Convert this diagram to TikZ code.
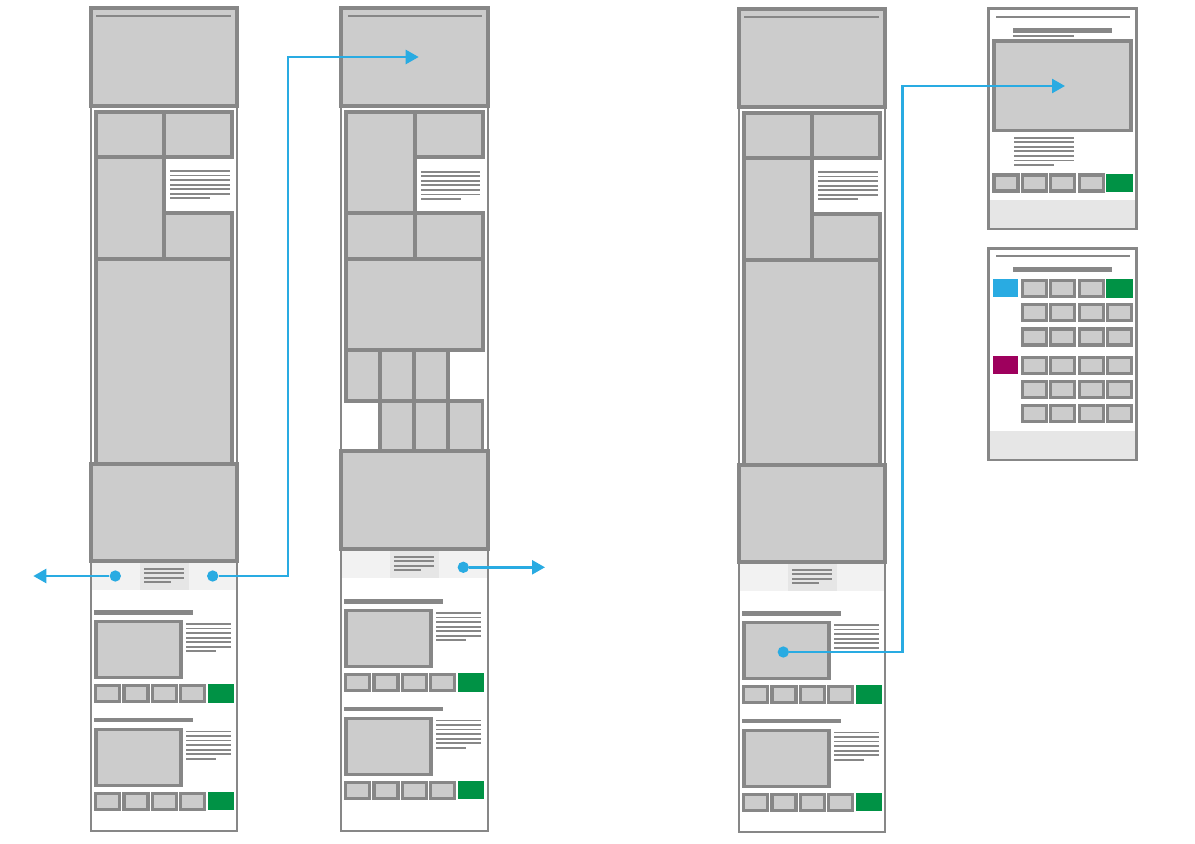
\documentclass[tikz,border=0pt]{standalone}
\usetikzlibrary{arrows.meta}
\definecolor{wfline}{HTML}{878787}
\definecolor{wfbox}{HTML}{CCCCCC}
\definecolor{wfstrip}{HTML}{F2F2F2}
\definecolor{wfmid}{HTML}{E6E6E6}
\definecolor{wfgreen}{HTML}{009245}
\definecolor{wfblue}{HTML}{29ABE2}
\definecolor{wfplum}{HTML}{9E005D}
\tikzset{
	pageframe/.style={draw=wfline, line width=1.7pt},
	blk/.style={draw=wfline, fill=wfbox, line width=2.5pt},
	btn/.style={draw=wfline, fill=wfbox, line width=2.3pt},
	txt/.style={draw=wfline, line width=1.3pt},
	rule/.style={draw=wfline, line width=1.7pt},
	bar/.style={draw=wfline, line width=3.3pt},
	link/.style={draw=wfblue, line width=1.9pt, -{Triangle[length=9.75pt,width=10.5pt]}},
	bluedot/.style={circle, fill=wfblue, inner sep=0pt, minimum size=8.5pt},
}
\newcommand{\wflines}[4]{%
	\foreach \k in {0,...,5}
		\draw[txt] (#1,{#4+4.55*\k}) -- (#2,{#4+4.55*\k});
	\draw[txt] (#1,{#4+27.3}) -- (#3,{#4+27.3});
}
\newcommand{\wfbuttons}[2]{%
	\foreach \i in {0,...,3}
		\draw[btn] ({#1+28.4*\i},#2) rectangle ++(24,16);
	\fill[wfgreen] ({#1+113.6-1.3},{#2-1.3}) rectangle ++(26.3,18.6);
}
\newcommand{\wflisting}[1]{%
	\draw[bar] (94,#1) -- (193,#1);
	\draw[blk] (96,{#1+9.3}) rectangle (181,{#1+65.3});
	\wflines{186}{231}{216}{#1+11.5}
	\wfbuttons{95.6}{#1+73.1}
}
\newcommand{\wfstripbar}{%
	\fill[wfstrip] (91,561) rectangle (237,590);
	\fill[wfmid] (140,561) rectangle (189,590);
	\foreach \y in {569,573.3,577.7}
		\draw[txt] (144,\y) -- (184,\y);
	\draw[txt] (144,581.7) -- (171,581.7);
}
\newcommand{\wfpageA}{%
	\wfstripbar
	\draw[pageframe] (91,8) rectangle (237,831);
	\draw[blk] (91,8) rectangle (237,106);
	\draw[rule] (96,16) -- (231,16);
	\draw[blk] (96,112) rectangle (164,157);
	\draw[blk] (164,112) rectangle (232,157);
	\draw[blk] (96,157) rectangle (164,259);
	\draw[blk] (164,213) rectangle (232,259);
	\draw[blk] (96,259) rectangle (232,464);
	\wflines{170}{230}{210}{171}
	\draw[blk] (91,464) rectangle (237,561);
	\wflisting{612.5}
	\wflisting{720}
}
\begin{document}
\begin{tikzpicture}[x=0.75pt,y=-0.75pt]
	\useasboundingbox (0,0) rectangle (1195,843);
	\wfpageA
	\begin{scope}[shift={(648,1)}]
		\wfpageA
	\end{scope}
	\begin{scope}[shift={(250,-12)}]
		\wfstripbar
	\end{scope}
	\draw[pageframe] (341,8) rectangle (488,831);
	\draw[blk] (341,8) rectangle (488,106);
	\draw[rule] (348,16) -- (482,16);
	\draw[blk] (346,112) rectangle (415,213);
	\draw[blk] (415,112) rectangle (483,157);
	\wflines{421}{480}{461}{171.7}
	\draw[blk] (346,213) rectangle (415,259);
	\draw[blk] (415,213) rectangle (483,259);
	\draw[blk] (346,259) rectangle (483,350);
	\foreach \x in {346,380,414}
		\draw[blk] (\x,350) rectangle ++(34,51);
	\foreach \x in {380,414,448}
		\draw[blk] (\x,401) rectangle ++(34.5,50);
	\draw[blk] (341,451) rectangle (488,549);
	\begin{scope}[shift={(250,-11)}]
		\wflisting{612.5}
		\wflisting{720}
	\end{scope}
	\fill[wfmid] (988.5,200) rectangle (1136.5,229);
	\draw[pageframe] (988.5,8.5) rectangle (1136.5,229);
	\draw[rule] (996,16.7) -- (1130,16.7);
	\draw[bar] (1013,30.3) -- (1112,30.3);
	\draw[txt] (1013,35.7) -- (1074,35.7);
	\draw[blk] (994,41) rectangle (1131,130.5);
	\wflines{1014}{1074}{1054}{137.7}
	\wfbuttons{994}{175}
	\fill[wfmid] (988.5,430.7) rectangle (1136.5,460);
	\draw[pageframe] (988.5,248.5) rectangle (1136.5,460);
	\draw[rule] (996,255.7) -- (1130,255.7);
	\draw[bar] (1013,269.3) -- (1112,269.3);
	\fill[wfblue] (992.7,279.3) rectangle (1018.3,297.3);
	\fill[wfplum] (992.7,356) rectangle (1018.3,374);
	\foreach \i in {0,...,2}
		\draw[btn] ({1022.4+28.4*\i},280.6) rectangle ++(24,16);
	\fill[wfgreen] (1106.3,279.3) rectangle ++(26.3,18.6);
	\foreach \y in {304.6,329,357.3,381.3,405.6}
		\foreach \i in {0,...,3}
			\draw[btn] ({1022.4+28.4*\i},\y) rectangle ++(24,16);
	\node[bluedot] (dotAL) at (115.3,576) {};
	\node[bluedot] (dotAR) at (212.7,576) {};
	\node[bluedot] (dotB) at (463.3,567.3) {};
	\node[bluedot] (dotC) at (783.3,652) {};
	\coordinate (tipL) at (33.3,576);
	\coordinate (bendA) at (288,300);
	\coordinate (tipB) at (418.7,57);
	\coordinate (tipR) at (545,567.3);
	\coordinate (bendC) at (902.3,400);
	\coordinate (tipD) at (1065,86);
	\draw[link] (dotAL) -- (tipL);
	\draw[link] (dotAR) -| (bendA) |- (tipB);
	\draw[link] (dotB) -- (tipR);
	\draw[link] (dotC) -| (bendC) |- (tipD);
\end{tikzpicture}
\end{document}
